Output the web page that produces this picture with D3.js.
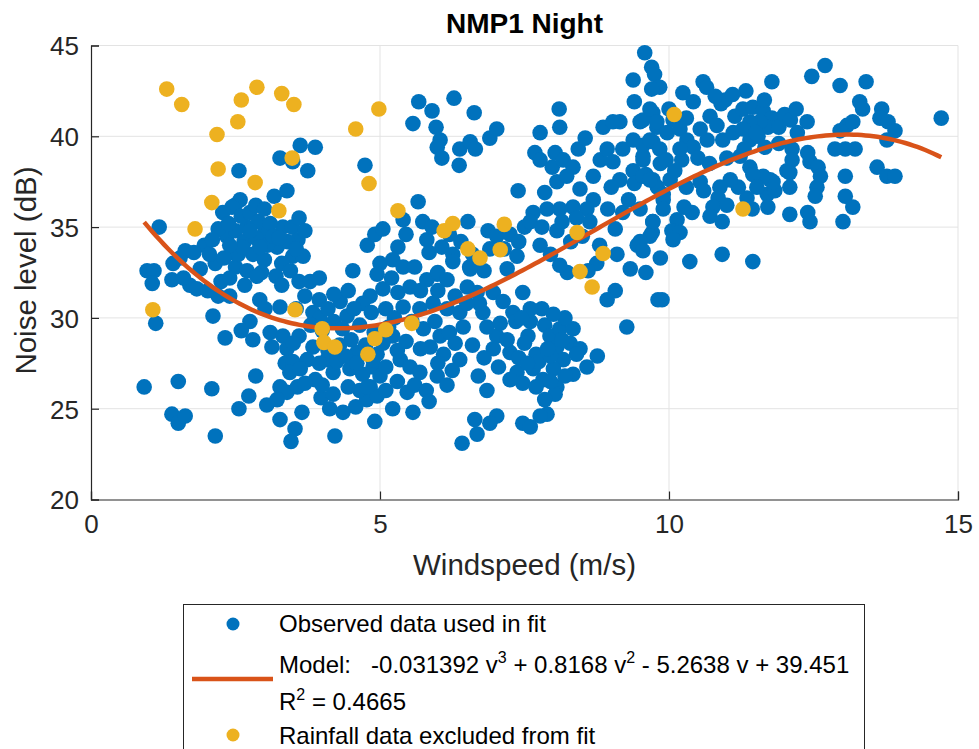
<!DOCTYPE html>
<html>
<head>
<meta charset="utf-8">
<script src="https://cdn.jsdelivr.net/npm/d3@7"></script>
<style>
  html, body { margin: 0; padding: 0; background: #fff; }
  svg { display: block; font-family: "Liberation Sans", Arial, Helvetica, sans-serif; }
</style>
</head>
<body>
<svg id="chart" width="979" height="749"></svg>
<script>
// ---------------- DATA ----------------
const title = "NMP1 Night";
const xLabel = "Windspeed (m/s)";
const yLabel = "Noise level (dB)";
const xTicks = [0, 5, 10, 15];
const yTicks = [20, 25, 30, 35, 40, 45];
const modelCoef = [-0.031392, 0.8168, -5.2638, 39.451]; // v^3, v^2, v, const
const r2 = "0.4665";

// Observed data used in fit: [windspeed, noise]
const observed = [
  // left edge
  [0.92,26.2],[0.97,32.6],[1.09,32.6],[1.06,31.9],[1.12,29.7],[1.18,35.0],[1.40,24.7],[1.51,24.2],[1.63,24.6],[1.51,26.5],
  [1.42,33.0],[1.54,33.3],[1.63,33.7],[1.71,31.8],[1.83,31.6],[1.89,32.7],[1.40,32.1],[1.60,32.2],[1.96,34.0],[2.02,31.5],
  [2.09,26.1],[2.15,23.5],[2.11,30.1],[2.32,28.9],[2.20,31.2],[2.15,33.0],[2.25,32.0],[1.78,33.6],[2.05,33.5],
  // left blob
  [2.56,38.1],[3.27,38.8],[3.49,38.6],[3.62,39.5],[3.88,39.4],[3.75,38.1],[3.17,36.7],[3.39,37.0],[2.49,36.2],[2.58,36.5],
  [2.44,36.1],[2.28,35.8],[2.70,35.0],[2.35,34.5],[2.50,34.8],[3.01,34.7],[3.32,35.0],[3.48,35.0],[3.58,34.3],[3.22,33.9],
  [3.49,33.4],[3.67,33.4],[2.20,34.9],[2.60,35.6],[2.75,35.8],[2.90,35.3],[3.10,35.2],[2.65,34.2],[2.85,34.4],[3.05,34.0],
  [2.45,33.6],[2.30,33.3],[2.80,33.5],[3.00,33.2],[3.30,33.0],[2.50,32.8],[2.70,32.6],[2.95,32.5],[3.20,32.3],[3.45,32.6],
  [2.40,32.2],[3.60,32.0],[2.38,35.2],[2.55,33.5],[3.15,34.5],[3.40,34.2],[2.10,34.3],[2.85,36.2],[3.00,36.0],[3.60,35.5],
  [3.70,34.8],[2.62,33.9],[2.92,33.9],[3.25,34.4],[3.55,33.8],[2.75,34.8],[2.40,34.0],
  // lower left / middle
  [2.40,31.2],[2.66,31.8],[2.87,32.3],[2.92,31.0],[3.01,30.5],[3.30,31.8],[3.79,32.0],[3.27,30.6],[2.75,29.8],[3.10,29.2],
  [3.32,29.0],[3.13,28.4],[3.39,28.3],[3.36,27.5],[3.49,27.6],[3.44,27.0],[3.27,26.2],[3.39,25.9],[3.22,25.5],[3.57,26.2],
  [3.84,30.3],[3.96,30.0],[4.31,30.9],[4.83,31.2],[4.43,30.1],[4.65,29.6],[4.60,28.1],[4.48,27.2],[4.70,26.9],[4.83,26.2],
  [4.77,25.5],[3.84,28.4],[3.74,27.7],[3.62,27.2],[4.08,27.7],[2.60,29.3],[2.80,28.8],[2.85,26.8],[2.73,25.7],[2.56,25.0],
  [3.04,25.2],[3.27,24.4],[3.53,23.9],[3.46,23.2],[3.65,24.8],[3.88,26.6],[3.98,25.6],[4.19,25.8],[4.19,27.0],[4.13,25.0],
  [4.36,24.8],[4.58,25.1],[4.22,23.5],[4.91,24.3],[4.53,32.6],[3.55,30.5],[3.70,31.2],[3.95,31.0],[4.10,30.5],[4.20,29.8],
  [4.00,29.3],[3.80,29.6],[3.60,29.0],[4.35,29.4],[4.50,28.8],[4.30,28.5],[4.10,28.2],[3.95,27.5],[4.25,27.6],[4.40,27.9],
  [4.60,27.5],[4.75,28.5],[4.90,29.2],[4.95,28.0],[4.88,27.3],[3.70,26.4],[4.00,26.3],[4.45,26.2],[4.65,26.0],[3.50,28.6],
  [4.20,31.3],[3.95,32.2],[4.45,31.5],[4.70,30.8],[4.85,30.3],[4.55,30.5],
  // middle
  [4.78,34.0],[4.91,34.6],[5.31,33.9],[5.22,33.2],[5.40,32.8],[5.60,32.8],[5.81,34.3],[5.85,33.6],[6.07,33.9],[6.26,33.5],
  [6.26,33.1],[5.99,32.4],[6.60,33.5],[6.55,32.8],[6.87,34.8],[7.02,34.5],[7.25,34.6],[7.40,34.2],[7.37,33.4],[7.20,32.7],
  [6.80,32.6],[6.68,33.2],[5.31,31.4],[5.52,31.7],[5.81,32.1],[6.00,32.5],[6.16,32.1],[5.69,30.5],[5.92,30.8],[6.16,30.5],
  [6.38,30.3],[6.44,29.5],[6.04,29.0],[5.87,28.4],[5.22,29.0],[5.35,27.7],[5.52,27.3],[5.69,27.0],[5.99,26.8],[6.16,26.3],
  [5.47,25.9],[5.57,24.8],[5.22,25.0],[4.95,25.7],[4.78,26.2],[5.00,26.8],[4.88,27.7],[5.10,27.3],[6.38,27.7],[6.70,26.8],
  [6.96,28.3],[7.02,29.0],[6.85,29.5],[7.08,29.7],[6.78,30.3],[6.72,30.8],[6.68,31.4],[6.51,31.7],[6.56,32.7],[6.96,31.4],
  [7.13,30.9],[7.30,30.3],[7.47,31.4],[7.35,29.8],[5.10,30.5],[5.25,30.0],[5.40,30.6],[5.55,29.8],[5.75,29.4],[5.95,29.8],
  [6.20,29.2],[6.30,28.6],[6.10,28.0],[5.70,28.3],[5.45,28.7],[5.30,28.2],[5.05,28.6],[5.15,29.5],[5.60,26.3],[5.80,26.0],
  [5.85,25.4],[6.00,27.5],[6.25,27.1],[5.30,26.5],[5.10,26.0],[5.05,31.6],[5.20,32.2],[6.30,31.2],[6.50,30.8],[5.70,31.5],
  [6.00,31.5],[5.45,34.6],[5.66,36.4],[5.74,35.3],[6.52,35.3],[5.90,35.0],[6.20,34.6],[6.40,34.2],[7.50,35.0],[7.15,33.8],
  [6.90,33.8],[5.00,33.0],[4.95,32.4],[5.05,34.9],[5.40,35.4],
  // lower right-middle cluster
  [7.56,29.0],[7.25,28.1],[7.37,27.0],[7.47,26.4],[7.65,27.2],[7.82,26.6],[7.80,30.5],[7.85,29.6],[7.94,29.0],[8.06,28.4],
  [8.11,29.4],[8.34,29.4],[8.29,28.6],[8.46,28.3],[8.17,27.7],[8.00,27.2],[8.06,26.2],[8.03,25.8],[8.34,26.9],[8.58,27.3],
  [8.76,27.9],[7.89,24.7],[7.77,24.6],[7.47,24.2],[7.60,24.0],[7.02,24.6],[6.90,24.2],[6.64,24.4],[6.68,23.6],[6.42,23.1],
  [7.50,28.6],[7.70,28.0],[7.60,29.8],[7.75,27.6],[7.95,27.9],[8.15,28.8],[7.90,28.3],[7.40,27.8],[7.55,27.5],[7.70,26.2],
  [7.95,26.5],[8.20,26.8],[7.85,25.5],[8.40,28.0],[8.20,30.0],[7.60,30.5],[7.45,30.0],[8.00,30.2],[6.85,26.0],[7.05,27.3],
  [6.60,28.5],[6.80,27.8],[7.20,28.8],[7.25,26.6],
  // rising band and upper middle
  [9.27,29.5],[9.07,31.5],[8.93,31.0],[9.33,32.7],[9.81,31.0],[8.24,32.5],[8.11,32.9],[9.88,31.0],
  [5.67,41.9],[6.28,42.1],[5.90,41.4],[5.57,40.7],[5.97,40.5],[6.04,39.8],[5.99,39.4],[6.07,38.8],[6.63,41.3],[6.38,39.3],
  [6.56,39.7],[6.65,39.3],[6.37,38.4],[6.90,39.9],[7.02,40.4],[4.74,38.4],[7.77,40.2],[8.10,41.5],[8.11,40.5],[7.68,39.1],
  [7.77,38.7],[8.03,39.1],[7.98,38.3],[8.17,38.7],[8.34,38.3],[8.43,39.3],[8.55,39.9],[8.86,40.5],[9.15,40.8],[9.03,40.8],
  [7.39,37.0],[7.85,36.9],[8.06,37.5],[8.23,37.8],[8.46,37.1],[8.69,37.8],[8.81,38.7],[8.93,39.3],[9.03,38.6],[9.20,39.3],
  [9.38,39.8],[9.50,40.8],[9.55,38.9],[9.72,37.6],[9.38,38.1],[9.15,37.6],[8.94,36.0],[8.69,36.5],[8.58,36.0],[8.34,36.1],
  [8.11,36.0],[7.89,36.0],[7.65,35.8],[7.60,35.3],[7.80,35.0],[8.06,34.8],[7.77,34.0],[8.15,35.3],[8.40,35.5],[8.63,35.3],
  [9.07,34.9],[9.45,34.0],[9.71,34.7],[9.72,35.3],[9.58,44.6],[9.70,43.8],[9.38,43.1],[9.75,43.4],[9.72,41.3],[9.55,40.9],
  [9.79,40.5],[9.72,39.7],[9.84,42.7],[9.70,42.6],[9.30,36.5],[9.50,36.0],[9.00,37.2],[8.50,34.5],[8.80,34.0],[9.20,35.8],
  [9.40,37.4],[9.60,37.9],[9.85,38.5],[9.90,36.5],[9.55,39.5],[8.75,33.0],[9.10,33.5],[8.30,34.2],[7.95,33.5],[8.60,32.6],
  [9.85,33.3],[9.60,32.5],[9.40,41.9],
  // x 10-12
  [10.59,43.0],[10.65,42.7],[10.24,42.4],[10.42,41.9],[10.97,42.0],[11.33,42.5],[11.78,43.0],[10.66,39.8],[10.54,40.4],[10.71,41.1],
  [10.83,40.6],[10.93,39.8],[11.11,40.2],[11.14,41.1],[11.28,41.5],[11.45,41.6],[11.63,41.4],[11.78,41.0],[11.71,40.5],[11.57,40.8],
  [11.40,40.8],[11.28,40.4],[11.40,39.8],[11.54,40.0],[11.66,39.4],[11.23,38.9],[11.40,38.3],[11.75,37.6],[11.70,36.8],[11.83,37.0],
  [12.04,38.1],[11.71,36.1],[11.80,37.5],[11.63,37.8],[11.45,37.9],[11.52,37.2],[11.44,36.0],[11.35,36.6],[11.20,37.2],[11.06,37.6],
  [10.88,37.2],[10.85,36.6],[10.76,36.1],[10.71,35.6],[10.92,35.3],[11.00,36.2],[10.54,37.5],[10.40,35.8],[10.26,36.1],[10.14,35.4],
  [10.05,34.8],[10.19,34.7],[10.07,34.3],[9.72,35.3],[9.67,34.5],[9.50,34.2],[9.55,33.7],[10.36,33.1],[10.92,33.5],[11.45,33.1],
  [10.22,38.7],[10.02,37.6],[9.80,37.2],[9.55,37.8],[9.90,36.8],[9.67,41.5],[9.79,40.8],[9.67,39.8],[9.84,39.3],[9.97,40.2],
  [10.07,40.9],[10.19,40.4],[10.31,39.8],[10.42,39.4],[10.19,39.3],[9.55,38.7],[9.67,37.6],[9.90,36.0],[10.00,41.5],[10.30,41.0],
  [10.50,38.8],[10.70,38.5],[11.00,38.8],[10.90,41.8],[10.80,42.2],[11.10,42.3],[11.50,40.2],[11.90,40.5],[11.90,39.6],[12.00,41.2],
  [11.65,42.0],[11.30,39.3],[10.60,37.0],[10.30,37.2],[10.10,38.1],[9.95,38.7],
  // x 12-15
  [12.47,43.3],[12.70,43.9],[12.96,42.8],[13.41,43.0],[13.30,41.9],[13.35,41.5],[13.68,41.5],[13.65,41.0],[13.79,40.8],[13.91,40.3],
  [13.77,39.8],[14.71,41.0],[12.39,40.8],[12.22,40.2],[13.08,40.6],[12.96,40.3],[13.18,40.8],[12.87,39.3],[13.05,39.3],[13.22,39.3],
  [12.13,39.3],[12.13,38.7],[12.09,38.0],[12.40,39.1],[12.44,38.6],[12.58,38.3],[12.62,37.8],[12.56,37.2],[12.53,36.7],[12.40,35.8],
  [12.44,35.3],[12.09,35.7],[13.05,37.8],[13.05,36.7],[13.18,36.1],[13.01,35.3],[13.60,38.3],[13.77,37.8],[13.91,37.8],[12.09,37.2],
  [12.10,40.9],[12.20,41.5]
];

// Rainfall data excluded from fit: [windspeed, noise]
const rainfall = [
  [1.31,42.6],[1.57,41.75],[2.18,40.1],[2.54,40.8],[2.60,42.0],[2.87,42.7],[3.30,42.35],[3.51,41.75],[2.20,38.2],[2.84,37.45],
  [2.09,36.35],[1.80,34.9],[3.48,38.8],[3.25,35.9],[4.58,40.4],[4.81,37.4],[4.98,41.5],[1.07,30.45],[3.53,30.45],[4.00,29.4],
  [4.03,28.65],[4.22,28.4],[4.79,28.0],[4.91,28.85],[5.10,29.35],[5.55,29.7],[5.31,35.9],[6.11,34.8],[6.26,35.2],[6.52,33.8],
  [6.73,33.3],[7.08,33.75],[7.15,35.15],[8.41,34.7],[8.86,33.55],[8.46,32.55],[8.67,31.7],[10.09,41.2],[11.28,36.0]
];

// ---------------- CHART ----------------
const svg = d3.select("#chart");
const blue = "#0072BD", orange = "#D95319", yellow = "#EDB120", axisCol = "#262626", gridCol = "#e3e3e3";

const x = d3.scaleLinear().domain([0, 15]).range([91, 958]);
const y = d3.scaleLinear().domain([20, 45]).range([499.5, 45.5]);

// grid
svg.append("g").selectAll("line").data(xTicks.filter(d => d > 0)).join("line")
  .attr("x1", d => x(d)).attr("x2", d => x(d)).attr("y1", y(20)).attr("y2", y(45))
  .attr("stroke", gridCol).attr("stroke-width", 1);
svg.append("g").selectAll("line").data(yTicks.filter(d => d > 20)).join("line")
  .attr("x1", x(0)).attr("x2", x(15)).attr("y1", d => y(d)).attr("y2", d => y(d))
  .attr("stroke", gridCol).attr("stroke-width", 1);

// observed points
const R = 7.8;
svg.append("g").selectAll("circle").data(observed).join("circle")
  .attr("cx", d => x(d[0])).attr("cy", d => y(d[1])).attr("r", R).attr("fill", blue);

// model curve
const model = v => modelCoef[0]*v*v*v + modelCoef[1]*v*v + modelCoef[2]*v + modelCoef[3];
const vmin = d3.min(observed, d => d[0]), vmax = d3.max(observed, d => d[0]);
const curve = d3.range(0, 201).map(i => { const v = vmin + (vmax - vmin) * i / 200; return [v, model(v)]; });
svg.append("path").datum(curve)
  .attr("d", d3.line().x(d => x(d[0])).y(d => y(d[1])))
  .attr("fill", "none").attr("stroke", orange).attr("stroke-width", 4.5);

// rainfall points
svg.append("g").selectAll("circle").data(rainfall).join("circle")
  .attr("cx", d => x(d[0])).attr("cy", d => y(d[1])).attr("r", R).attr("fill", yellow);

// axes
const xAxis = d3.axisBottom(x).tickValues(xTicks).tickSize(-8).tickPadding(15).tickFormat(d3.format("d"));
const gx = svg.append("g").attr("transform", `translate(0,${y(20)})`).call(xAxis);
const yAxis = d3.axisLeft(y).tickValues(yTicks).tickSize(-8).tickPadding(12).tickFormat(d3.format("d"));
const gy = svg.append("g").attr("transform", `translate(${x(0)},0)`).call(yAxis);
[gx, gy].forEach(g => {
  g.select(".domain").attr("stroke", axisCol).attr("stroke-width", 1.2);
  g.selectAll(".tick line").attr("stroke", axisCol).attr("stroke-width", 1.2);
  g.selectAll(".tick text").attr("fill", axisCol)
    .style("font-family", '"Liberation Sans", Arial, sans-serif').style("font-size", "26px");
});
gx.selectAll(".tick text").attr("dy", "0.71em");
gy.selectAll(".tick text").attr("dy", "0.36em");

// title and labels
svg.append("text").attr("x", (x(0) + x(15)) / 2).attr("y", 33).attr("text-anchor", "middle")
  .attr("font-size", 28).attr("font-weight", "bold").attr("fill", "#000").text(title);
svg.append("text").attr("x", (x(0) + x(15)) / 2).attr("y", 575).attr("text-anchor", "middle")
  .attr("font-size", 29.5).attr("fill", axisCol).text(xLabel);
svg.append("text").attr("transform", `translate(36,${(y(20) + y(45)) / 2 - 2}) rotate(-90)`).attr("text-anchor", "middle")
  .attr("font-size", 29.5).attr("fill", axisCol).text(yLabel);

// legend
const lg = svg.append("g");
lg.append("rect").attr("x", 183.5).attr("y", 604.5).attr("width", 681).attr("height", 160)
  .attr("fill", "#fff").attr("stroke", axisCol).attr("stroke-width", 1);
const fs = 24, sup = 16, tx = 279;
lg.append("circle").attr("cx", 233).attr("cy", 624).attr("r", 6.5).attr("fill", blue);
lg.append("text").attr("x", tx).attr("y", 632).attr("font-size", fs).attr("fill", "#000").text("Observed data used in fit");
lg.append("line").attr("x1", 192).attr("x2", 273).attr("y1", 679).attr("y2", 679)
  .attr("stroke", orange).attr("stroke-width", 4.5);
const mt = lg.append("text").attr("x", tx).attr("y", 673).attr("font-size", fs).attr("fill", "#000")
  .style("white-space", "pre");
const fmt = c => String(Math.abs(c));
mt.append("tspan").text(`Model:   ${modelCoef[0]} v`);
mt.append("tspan").attr("dy", -10).attr("font-size", sup).text("3");
mt.append("tspan").attr("dy", 10).text(` + ${fmt(modelCoef[1])} v`);
mt.append("tspan").attr("dy", -10).attr("font-size", sup).text("2");
mt.append("tspan").attr("dy", 10).text(` - ${fmt(modelCoef[2])} v + ${fmt(modelCoef[3])}`);
const rt = lg.append("text").attr("x", tx).attr("y", 710).attr("font-size", fs).attr("fill", "#000").style("white-space", "pre");
rt.append("tspan").text("R");
rt.append("tspan").attr("dy", -10).attr("font-size", sup).text("2");
rt.append("tspan").attr("dy", 10).text(` = ${r2}`);
lg.append("circle").attr("cx", 233).attr("cy", 735).attr("r", 6.5).attr("fill", yellow);
lg.append("text").attr("x", tx).attr("y", 744).attr("font-size", fs).attr("fill", "#000").text("Rainfall data excluded from fit");
</script>
</body>
</html>
